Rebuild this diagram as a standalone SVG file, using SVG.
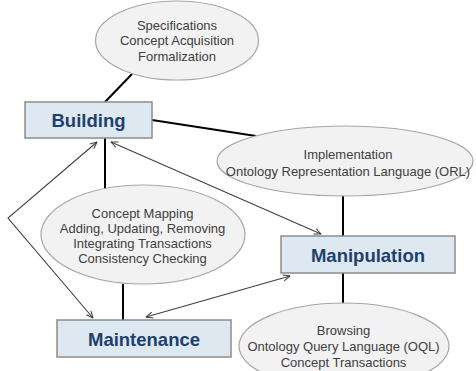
<svg xmlns="http://www.w3.org/2000/svg" width="476" height="371" viewBox="0 0 476 371">
  <defs>
    <marker id="open-arrow" viewBox="0 0 10 10" refX="9.5" refY="5" markerWidth="8" markerHeight="8" markerUnits="userSpaceOnUse" orient="auto-start-reverse">
      <path d="M1,1.2 L9.5,5 L1,8.8" fill="none" stroke="#404040" stroke-width="1.3"/>
    </marker>
  </defs>
  <style>
    .bubble { fill: #f2f2f2; stroke: #a6a6a6; stroke-width: 1.2; }
    .bubble-text { font-family: "Liberation Sans", Arial, sans-serif; font-size: 13px; fill: #404040; text-anchor: middle; }
    .phase { fill: #dde8f0; stroke: #8c8c8c; stroke-width: 1.5; }
    .phase-text { font-family: "Liberation Sans", Arial, sans-serif; font-size: 18.5px; font-weight: bold; fill: #1f3f6e; text-anchor: middle; }
    .link { stroke: #000; stroke-width: 2; fill: none; }
    .flow { stroke: #404040; stroke-width: 1.1; fill: none; marker-start: url(#open-arrow); marker-end: url(#open-arrow); }
  </style>
  <rect width="476" height="371" fill="#ffffff"/>

  <!-- connectors -->
  <g id="connectors">
    <line class="link" x1="132" y1="74" x2="105" y2="102"/>
    <line class="link" x1="152" y1="120" x2="256" y2="136"/>
    <line class="link" x1="105" y1="138" x2="105" y2="189"/>
    <line class="link" x1="343" y1="196" x2="343" y2="236"/>
    <line class="link" x1="343" y1="273" x2="343" y2="304"/>
    <line class="link" x1="123" y1="284" x2="123" y2="320"/>
    <polyline class="flow" points="97,142 8,218 93,318"/>
    <line class="flow" x1="111" y1="142" x2="321" y2="234"/>
    <line class="flow" x1="146" y1="317" x2="290" y2="276"/>
  </g>

  <!-- activity bubbles -->
  <g id="building-activities">
    <ellipse class="bubble" cx="177" cy="40.5" rx="81.5" ry="39.5"/>
    <text class="bubble-text" x="177" y="29.5">Specifications</text>
    <text class="bubble-text" x="177" y="45">Concept Acquisition</text>
    <text class="bubble-text" x="177" y="60.5">Formalization</text>
  </g>

  <g id="implementation">
    <ellipse class="bubble" cx="345" cy="161" rx="128" ry="35"/>
    <text class="bubble-text" x="348" y="158.5">Implementation</text>
    <text class="bubble-text" x="348" y="176">Ontology Representation Language (ORL)</text>
  </g>

  <g id="maintenance-activities">
    <ellipse class="bubble" cx="143" cy="234.5" rx="102" ry="49.5"/>
    <text class="bubble-text" x="142.5" y="218">Concept Mapping</text>
    <text class="bubble-text" x="142.5" y="233">Adding, Updating, Removing</text>
    <text class="bubble-text" x="142.5" y="248">Integrating Transactions</text>
    <text class="bubble-text" x="142.5" y="263">Consistency Checking</text>
  </g>

  <g id="manipulation-activities">
    <ellipse class="bubble" cx="344" cy="346" rx="105" ry="43"/>
    <text class="bubble-text" x="343.5" y="334.5">Browsing</text>
    <text class="bubble-text" x="343.5" y="350.5">Ontology Query Language (OQL)</text>
    <text class="bubble-text" x="343.5" y="366.5">Concept Transactions</text>
  </g>

  <!-- phases -->
  <g id="building">
    <rect class="phase" x="25" y="102" width="127" height="36"/>
    <text class="phase-text" x="88.5" y="127">Building</text>
  </g>

  <g id="manipulation">
    <rect class="phase" x="281" y="236" width="174" height="37"/>
    <text class="phase-text" x="368" y="261.5">Manipulation</text>
  </g>

  <g id="maintenance">
    <rect class="phase" x="57" y="320" width="174" height="37"/>
    <text class="phase-text" x="144" y="345.5">Maintenance</text>
  </g>
</svg>
